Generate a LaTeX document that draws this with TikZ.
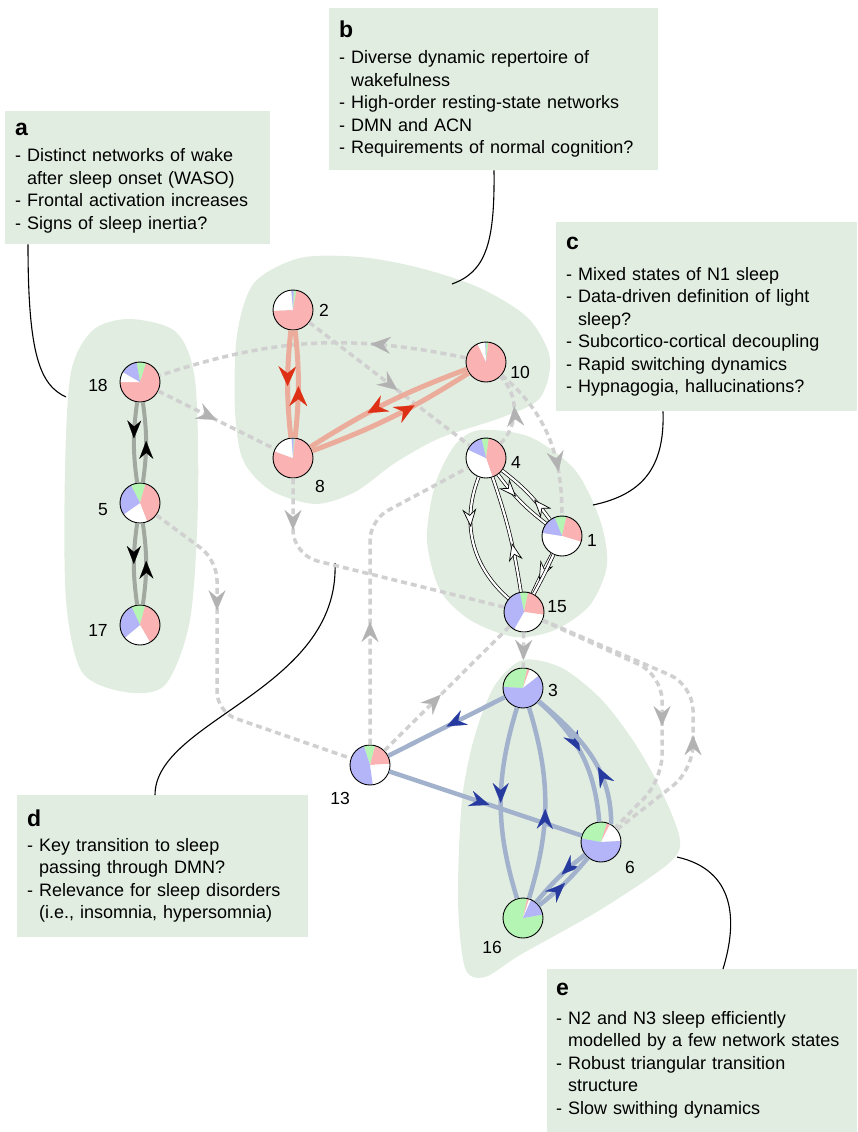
\documentclass[tikz,border=0pt]{standalone}
\usepackage{fontspec}
\setmainfont{Liberation Sans}
\usetikzlibrary{arrows.meta, decorations.markings, positioning}

\definecolor{blobgreen}{RGB}{225,237,225}
\definecolor{piepink}{RGB}{250,178,178}
\definecolor{piegreen}{RGB}{180,245,180}
\definecolor{pieblue}{RGB}{180,180,248}
\definecolor{wakeline}{RGB}{160,168,160}
\definecolor{salmon}{RGB}{236,172,155}
\definecolor{redtip}{RGB}{222,48,20}
\definecolor{steel}{RGB}{162,177,204}
\definecolor{navytip}{RGB}{38,58,160}
\definecolor{dashgray}{RGB}{208,208,208}
\definecolor{tipgray}{RGB}{178,178,178}

\begin{document}
\begin{tikzpicture}[x=1pt, y=1pt,
    ktip/.tip={Stealth[length=18pt, width=14pt, inset=6pt, line width=0.2pt, color=black]},
    rtip/.tip={Stealth[length=20pt, width=18pt, inset=7pt, line width=0.2pt, color=redtip]},
    wtip/.tip={Stealth[length=18pt, width=14pt, inset=6pt, line width=0.7pt, color=black, fill=white]},
    btip/.tip={Stealth[length=20pt, width=16pt, inset=7pt, line width=0.2pt, color=navytip]},
    gtip/.tip={Stealth[length=20pt, width=17pt, inset=7pt, line width=0.2pt, color=tipgray]}]
    \tikzstyle{blob} = [fill=blobgreen, draw=none]
    \tikzstyle{infobox} = [fill=blobgreen, anchor=north west, align=left, inner xsep=10pt, inner ysep=0pt, font=\fontsize{18}{22.5}\selectfont]
    \tikzstyle{state} = [circle, draw=black, line width=0.9pt, minimum size=40pt, inner sep=0pt]
    \tikzstyle{numlbl} = [font=\fontsize{17.5}{20}\selectfont, inner sep=0pt]
    \tikzstyle{callout} = [draw=black, line width=1.1pt]
    \tikzstyle{wakeedge} = [draw=wakeline, line width=4pt]
    \tikzstyle{redge} = [draw=salmon, line width=5pt]
    \tikzstyle{dedge} = [draw=black, double=white, double distance=2.2pt, line width=0.7pt]
    \tikzstyle{bedge} = [draw=steel, line width=4.5pt]
    \tikzstyle{tedge} = [draw=dashgray, line width=3.5pt, dash pattern=on 6pt off 4pt]
    \tikzstyle{ktipat} = [postaction={decorate}, decoration={markings, mark=at position #1 with {\arrow{ktip}}}]
    \tikzstyle{rtipat} = [postaction={decorate}, decoration={markings, mark=at position #1 with {\arrow{rtip}}}]
    \tikzstyle{wtipat} = [postaction={decorate}, decoration={markings, mark=at position #1 with {\arrow{wtip}}}]
    \tikzstyle{btipat} = [postaction={decorate}, decoration={markings, mark=at position #1 with {\arrow{btip}}}]
    \tikzstyle{gtipat} = [postaction={decorate}, decoration={markings, mark=at position #1 with {\arrow{gtip}}}]

    \useasboundingbox (0,0) rectangle (857,-1132);

    % clusters
    \fill[blob] plot[smooth cycle] coordinates {(130,-319) (176,-332) (195,-380) (198,-500) (190,-620) (165,-685) (125,-692) (82,-672) (66,-600) (65,-470) (71,-372) (93,-330)};
    \fill[blob] plot[smooth cycle] coordinates {(300,-258) (360,-257) (420,-268) (480,-288) (528,-318) (550,-358) (540,-398) (503,-417) (440,-438) (395,-463) (355,-492) (315,-504) (270,-490) (243,-460) (235,-410) (237,-335) (254,-283)};
    \fill[blob] plot[smooth cycle] coordinates {(480,-430) (530,-437) (575,-470) (600,-520) (607,-565) (590,-605) (555,-630) (515,-637) (470,-620) (440,-590) (427,-540) (435,-485) (455,-445)};
    \fill[blob] plot[smooth cycle] coordinates {(523,-660) (562,-668) (602,-700) (636,-745) (662,-792) (680,-840) (668,-864) (600,-910) (520,-955) (485,-977) (465,-968) (458,-900) (462,-800) (475,-735) (495,-685)};

    % text boxes
    \node[infobox, text width=245pt, minimum height=133pt] (boxa) at (5,-111) {{\fontsize{23}{26}\selectfont\bfseries a}\\[4pt]- Distinct networks of wake\\\phantom{- }after sleep onset (WASO)\\- Frontal activation increases\\- Signs of sleep inertia?};
    \node[infobox, text width=309pt, minimum height=162pt] (boxb) at (329,-8) {{\fontsize{23}{26}\selectfont\bfseries b}\\[4pt]- Diverse dynamic repertoire of\\\phantom{- }wakefulness\\- High-order resting-state networks\\- DMN and ACN\\- Requirements of normal cognition?};
    \node[infobox, text width=281pt, minimum height=189pt] (boxc) at (556,-222) {{\fontsize{23}{26}\selectfont\bfseries c}\\[8pt]- Mixed states of N1 sleep\\- Data-driven definition of light\\\phantom{- }sleep?\\- Subcortico-cortical decoupling\\- Rapid switching dynamics\\- Hypnagogia, hallucinations?};
    \node[infobox, text width=271pt, minimum height=142pt] (boxd) at (17,-795) {{\fontsize{23}{26}\selectfont\bfseries d}\\[2pt]- Key transition to sleep\\\phantom{- }passing through DMN?\\- Relevance for sleep disorders\\\phantom{- }(i.e., insomnia, hypersomnia)};
    \node[infobox, text width=292pt, inner xsep=9pt, minimum height=163pt] (boxe) at (547,-969) {{\fontsize{23}{26}\selectfont\bfseries e}\\[6pt]- N2 and N3 sleep efficiently\\\phantom{- }modelled by a few network states\\- Robust triangular transition\\\phantom{- }structure\\- Slow swithing dynamics};

    % callout lines
    \coordinate (pa) at (66,-397);
    \coordinate (pb) at (452,-284);
    \coordinate (pc) at (593,-505);
    \coordinate (pd) at (335,-563);
    \coordinate (pe) at (677,-857);
    \draw[callout] ([xshift=23]boxa.south west) .. controls (28,-355) and (40,-385) .. (pa);
    \draw[callout] ([xshift=165]boxb.south west) .. controls (495,-245) and (485,-272) .. (pb);
    \draw[callout] ([xshift=107]boxc.south west) .. controls (665,-470) and (640,-495) .. (pc);
    \draw[callout] ([xshift=138]boxd.north west) .. controls (155,-720) and (340,-690) .. (pd);
    \draw[callout] ([xshift=176]boxe.north west) .. controls (738,-920) and (735,-870) .. (pe);

    % network states as pies: green, pink, white, blue (clockwise)
    \foreach \n/\x/\y/\ga/\gb/\pb/\wb/\lx/\ly in {
        18/140/-382/100/72/-180/-210/98/-385,
        5/140/-503/117/74/-69/-145/103/-510,
        17/140/-625/115/75/-60/-140/98/-630,
        2/293/-310/88/80/-178/-265/324/-310,
        8/293/-458/88/84/-200/-266/320/-486,
        10/486/-362/90/83/-245/-268/520/-372,
        4/486/-458/103/82/-71/-205/516/-462,
        1/562/-536/112/77/-17/-189/592/-540,
        15/524/-612/102/78/-8/-120/557/-607,
        3/523/-688/177/78/70/38/553/-690,
        13/370/-765/108/75/3/-82/340/-798,
        6/601/-842/170/73/63/3/630/-867,
        16/523/-918/10/-282/-288/-294/492/-947}
    {
        \pgfmathsetmacro{\gc}{\ga-360}
        \fill[piegreen] (\x,\y) -- ++(\ga:20) arc[start angle=\ga, end angle=\gb, radius=20] -- cycle;
        \fill[piepink] (\x,\y) -- ++(\gb:20) arc[start angle=\gb, end angle=\pb, radius=20] -- cycle;
        \fill[white] (\x,\y) -- ++(\pb:20) arc[start angle=\pb, end angle=\wb, radius=20] -- cycle;
        \fill[pieblue] (\x,\y) -- ++(\wb:20) arc[start angle=\wb, end angle=\gc, radius=20] -- cycle;
        \node[state] (n\n) at (\x,\y) {};
        \node[numlbl] (l\n) at (\lx,\ly) {\n};
    }

    % transitions between clusters
    \draw[tedge, gtipat=0.5] (n18) -- (n8);
    \draw[tedge, gtipat=0.31] (n10) to[bend right=15] (n18);
    \draw[tedge, gtipat=0.55] (n2) -- (n4);
    \draw[tedge, gtipat=0.55] (n4) to[bend right=45] (n10);
    \draw[tedge, gtipat=0.72] (n10) to[out=-40, in=90] (n1);
    \draw[tedge, gtipat=0.18, rounded corners=25] (n8) -- (293,-555) -- (n15);
    \draw[tedge, gtipat=0.34, rounded corners=20] (n5) -- (217,-560) -- (217,-712) -- (n13);
    \draw[tedge, gtipat=0.37, rounded corners=20] (n13) -- (370,-520) -- (n4);
    \draw[tedge, gtipat=0.45] (n13) -- (n15);
    \draw[tedge, gtipat=0.78] (n15) -- (n3);
    \draw[tedge, gtipat=0.6, rounded corners=25] (n15) -- (662,-675) -- (662,-780) -- (n6);
    \draw[tedge, gtipat=0.38, rounded corners=25] (n6) -- (693,-770) -- (693,-685) -- (n15);

    % within clusters
    \draw[wakeedge, ktipat=0.45] (n18) to[bend right=8] (n5);
    \draw[wakeedge, ktipat=0.52] (n5) to[bend right=8] (n18);
    \draw[wakeedge, ktipat=0.5] (n5) to[bend right=8] (n17);
    \draw[wakeedge, ktipat=0.54] (n17) to[bend right=8] (n5);

    \draw[redge, rtipat=0.52] (n2) to[bend right=6] (n8);
    \draw[redge, rtipat=0.48] (n8) to[bend right=6] (n2);
    \draw[redge, rtipat=0.62] (n10) to[bend right=6] (n8);
    \draw[redge, rtipat=0.64] (n8) to[bend right=6] (n10);

    \draw[dedge, wtipat=0.38] (n4) to[bend right=35] (n15);
    \draw[dedge, wtipat=0.42] (n15) to[bend right=5] (n4);
    \draw[dedge, wtipat=0.42] (n4) to[bend right=8] (n1);
    \draw[dedge, wtipat=0.37] (n1) to[bend right=8] (n4);
    \draw[dedge, wtipat=0.65] (n1) to[bend right=2] (n15);
    \draw[dedge] (n15) to[bend right=2] (n1);

    \draw[bedge, btipat=0.5] (n3) -- (n13);
    \draw[bedge, btipat=0.52] (n13) -- (n6);
    \draw[bedge, btipat=0.5] (n3) to[bend right=17] (n16);
    \draw[bedge, btipat=0.47] (n16) to[bend right=17] (n3);
    \draw[bedge, btipat=0.47] (n3) to[bend left=22] (n6);
    \draw[bedge, btipat=0.4] (n6.60) to[out=90, in=-40] (n3);
    \draw[bedge, btipat=0.45] (n6) to[bend right=6] (n16);
    \draw[bedge, btipat=0.5] (n16) to[bend right=6] (n6);
\end{tikzpicture}
\end{document}
